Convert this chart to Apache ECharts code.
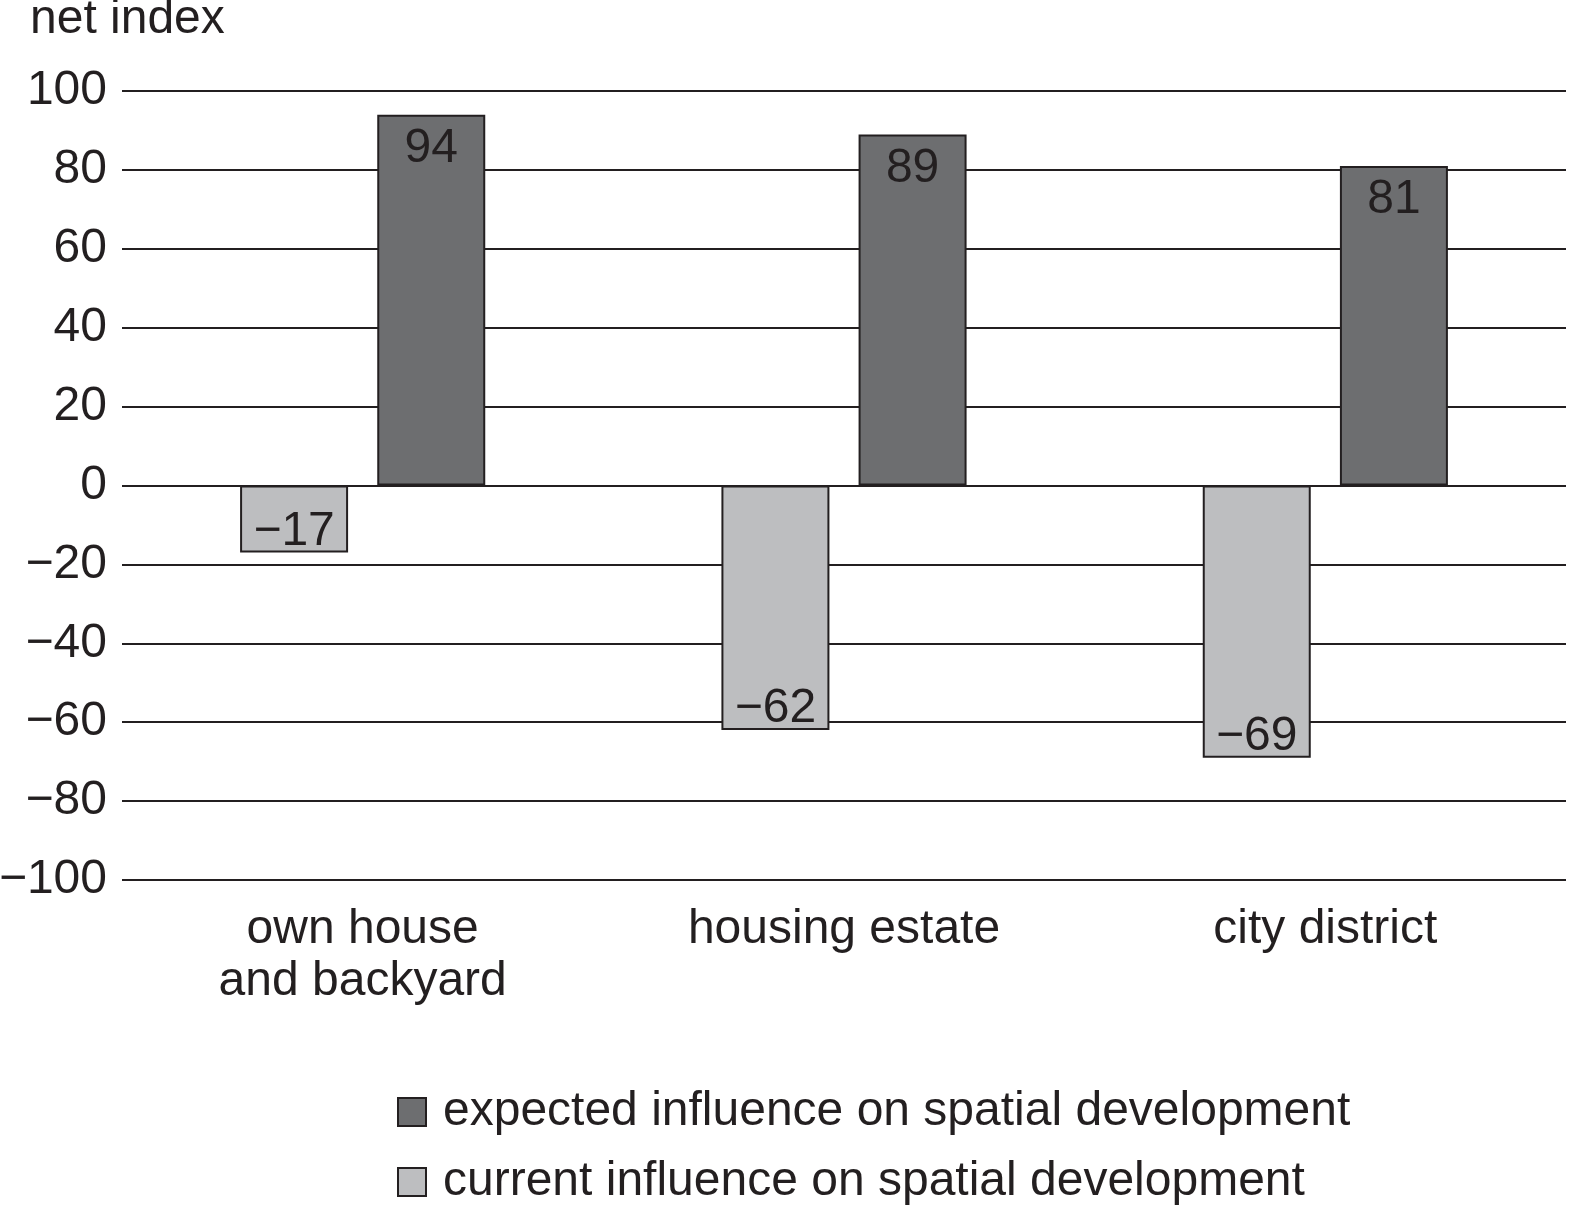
<!DOCTYPE html>
<html>
<head>
<meta charset="utf-8">
<script src="https://cdn.jsdelivr.net/npm/echarts@6/dist/echarts.min.js"></script>
<style>
html,body{margin:0;padding:0;background:#fff;}
#chart{width:1576px;height:1212px;}
</style>
</head>
<body>
<div id="chart"></div>
<script>
const categories = ['own house\nand backyard', 'housing estate', 'city district'];
const currentValues = [-17, -62, -69];
const expectedValues = [94, 89, 81];
const seriesNames = ['current influence on spatial development', 'expected influence on spatial development'];
const yTicks = { min: -100, max: 100, interval: 20 };
const axisTitle = 'net index';

const ink = '#231f20';
const fontFamily = '"Liberation Sans", Arial, Helvetica, sans-serif';
const fs = 48;
const minus = v => String(v).replace('-', '\u2212');

const chart = echarts.init(document.getElementById('chart'));
chart.setOption({
  animation: false,
  backgroundColor: '#ffffff',
  textStyle: { fontFamily: fontFamily, color: ink },
  title: {
    text: axisTitle,
    left: 30, top: -4, padding: 0,
    textStyle: { fontSize: fs, fontWeight: 'normal', color: ink, fontFamily: fontFamily }
  },
  grid: { left: 122, right: 10, top: 91, bottom: 332, containLabel: false, outerBoundsMode: 'none' },
  legend: {
    orient: 'vertical',
    left: 397, top: 1088, padding: 0,
    itemWidth: 28, itemHeight: 28, itemGap: 22,
    data: [seriesNames[1], seriesNames[0]],
    icon: 'rect',
    textStyle: { fontSize: fs, lineHeight: 48, color: ink, fontFamily: fontFamily, padding: [0, 0, 0, 12] }
  },
  xAxis: {
    type: 'category',
    data: categories,
    axisLine: { show: false },
    axisTick: { show: false },
    axisLabel: { fontSize: fs, lineHeight: 52, color: ink, margin: 24, fontFamily: fontFamily, interval: 0 }
  },
  yAxis: {
    type: 'value',
    min: yTicks.min, max: yTicks.max, interval: yTicks.interval,
    axisLine: { show: false },
    axisTick: { show: false },
    splitLine: { show: true, lineStyle: { color: ink, width: 2 } },
    axisLabel: { fontSize: fs, color: ink, margin: 15, fontFamily: fontFamily, formatter: v => minus(v) }
  },
  series: [
    {
      name: seriesNames[0],
      type: 'bar',
      data: currentValues,
      barWidth: 108,
      barGap: '27%',
      itemStyle: { color: '#bdbec0', borderColor: ink, borderWidth: 2 },
      label: { show: true, position: 'insideBottom', distance: -3, fontSize: fs, color: ink, fontFamily: fontFamily, formatter: p => minus(p.value) }
    },
    {
      name: seriesNames[1],
      type: 'bar',
      data: expectedValues,
      barWidth: 108,
      barGap: '27%',
      itemStyle: { color: '#6d6e70', borderColor: ink, borderWidth: 2 },
      label: { show: true, position: 'insideTop', distance: 10, fontSize: fs, color: ink, fontFamily: fontFamily, formatter: p => minus(p.value) }
    }
  ]
});
</script>
</body>
</html>
